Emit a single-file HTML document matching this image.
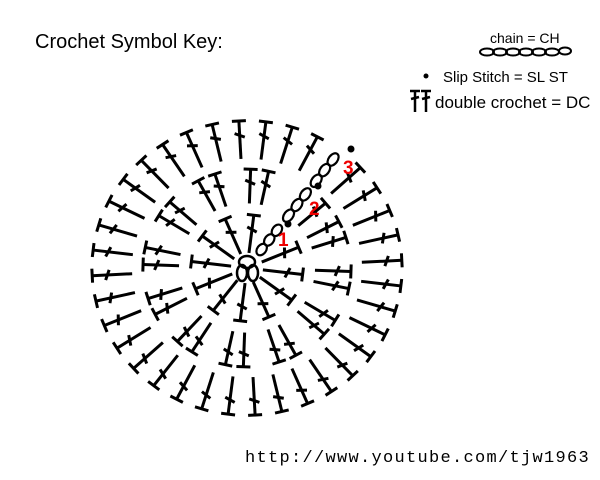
<!DOCTYPE html>
<html><head><meta charset="utf-8"><style>
html,body{margin:0;padding:0;background:#fff;width:600px;height:480px;overflow:hidden}
svg{display:block}
</style></head><body>
<svg id="s" width="600" height="480" xmlns="http://www.w3.org/2000/svg">
<text x="35" y="48" font-family="'Liberation Sans',sans-serif" font-size="20" fill="#000">Crochet Symbol Key:</text>
<text x="490" y="43" font-family="'Liberation Sans',sans-serif" font-size="14" fill="#000">chain = CH</text>
<g fill="none" stroke="#000" stroke-width="2">
<ellipse cx="487" cy="52" rx="7" ry="3.5"/><ellipse cx="500" cy="52" rx="7" ry="3.5"/><ellipse cx="513" cy="52" rx="7" ry="3.5"/><ellipse cx="526" cy="52" rx="7" ry="3.5"/><ellipse cx="539" cy="52" rx="7" ry="3.5"/><ellipse cx="552" cy="52" rx="7" ry="3.5"/><ellipse cx="565" cy="51" rx="6" ry="3.5"/>
</g>
<circle cx="426" cy="76" r="2.5" fill="#000"/>
<text x="443" y="82" font-family="'Liberation Sans',sans-serif" font-size="15" fill="#000">Slip Stitch = SL ST</text>
<g stroke="#000" stroke-width="2.5">
<line x1="415" y1="90" x2="415" y2="112"/><line x1="410" y1="91" x2="420" y2="91"/><line x1="411" y1="99" x2="419" y2="97"/>
<line x1="426" y1="90" x2="426" y2="112"/><line x1="421" y1="91" x2="431" y2="91"/><line x1="422" y1="99" x2="430" y2="97"/>
</g>
<text x="435" y="108" font-family="'Liberation Sans',sans-serif" font-size="17" fill="#000">double crochet = DC</text>
<text x="245" y="462" font-family="'Liberation Mono',monospace" font-size="17" letter-spacing="1.3" fill="#000">http://www.youtube.com/tjw1963</text>
<g id="d" stroke="#000" stroke-width="3" fill="none"></g>
<g fill="none" stroke="#000" stroke-width="2.5">
<ellipse cx="247" cy="262" rx="8" ry="6"/><ellipse cx="242" cy="273" rx="5" ry="8"/><ellipse cx="253" cy="273" rx="5" ry="8"/>
</g>
<g font-family="'Liberation Sans',sans-serif" font-weight="bold" font-size="19" fill="#e00">
<text x="278" y="246">1</text><text x="309" y="215">2</text><text x="343" y="174">3</text>
</g>
<circle cx="288" cy="224" r="3.5" fill="#000"/><circle cx="318" cy="186" r="3.5" fill="#000"/><circle cx="351" cy="149" r="3.5" fill="#000"/>
</svg>
<script>
var g=document.getElementById('d'),cx=247,cy=268,ch=-53,out='';
function st(a,r1,r2){var t=a*Math.PI/180,c=Math.cos(t),s=Math.sin(t),px=-s,py=c;
var x1=cx+c*r1,y1=cy+s*r1*0.95,x2=cx+c*r2,y2=cy+s*r2*0.95;
out+='<line x1="'+x1+'" y1="'+y1+'" x2="'+x2+'" y2="'+y2+'"/>';
out+='<line x1="'+(x2+px*7)+'" y1="'+(y2+py*7)+'" x2="'+(x2-px*7)+'" y2="'+(y2-py*7)+'"/>';
var mx=cx+c*(r1+(r2-r1)*0.62),my=cy+s*(r1+(r2-r1)*0.62)*0.95;
out+='<line x1="'+(mx+px*5-c*2)+'" y1="'+(my+py*5-s*2)+'" x2="'+(mx-px*5+c*2)+'" y2="'+(my-py*5+s*2)+'"/>';}
function chain(r1,r2,n){var t=ch*Math.PI/180,c=Math.cos(t),s=Math.sin(t),step=(r2-r1)/n;
for(var i=0;i<n;i++){var r=r1+step*(i+0.5);out+='<ellipse cx="'+(cx+c*r)+'" cy="'+(cy+s*r*0.95)+'" rx="'+(step/2)+'" ry="4.5" stroke-width="2.2" transform="rotate('+ch+' '+(cx+c*r)+' '+(cy+s*r*0.95)+')"/>';}}
for(var i=1;i<12;i++){st(ch+i*30,16,56);}
chain(18,56,3);
for(var i=1;i<12;i++){st(ch+i*30-5,68,104);st(ch+i*30+5,68,104);}
st(ch+5+7,68,104);
chain(62,104,3);
for(var i=1;i<36;i++){st(ch+i*10,115,155);}
chain(108,150,3);
g.innerHTML=out;
</script>
</body></html>
